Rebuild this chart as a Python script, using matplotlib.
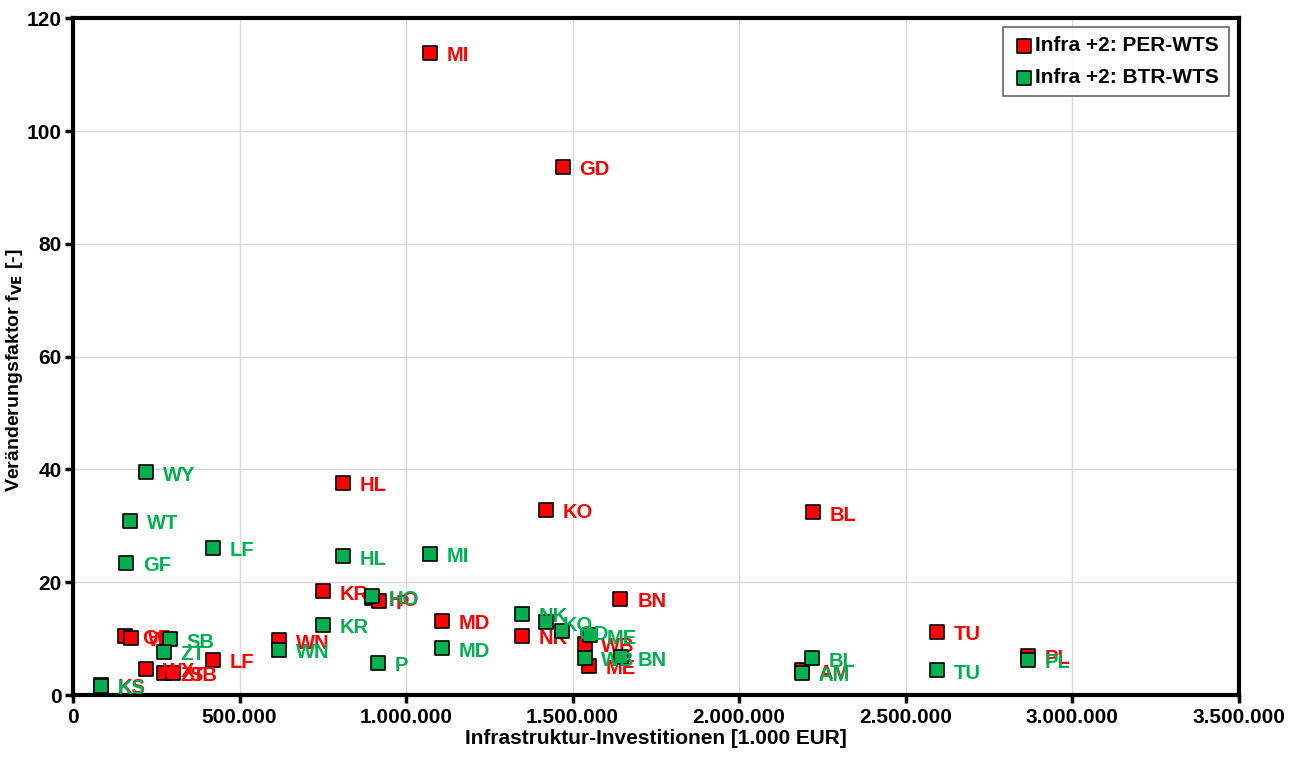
import matplotlib.pyplot as plt
from matplotlib.ticker import FuncFormatter

plt.rcParams['font.family'] = ['Liberation Sans', 'DejaVu Sans']
plt.rcParams['font.weight'] = 'bold'

# Infra +2: PER-WTS (rot)
per_labels = ['MI', 'GD', 'HL', 'KO', 'BL', 'KR', 'HO', 'P', 'MD', 'NK', 'BN', 'WB', 'ME',
              'TU', 'PL', 'AM', 'LF', 'WN', 'WX', 'ZT', 'SB', 'GF', 'WT', 'KS']
per_x = [1071000, 1470000, 810000, 1419000, 2222000, 750000, 897000, 920000, 1107000, 1347000,
         1644000, 1536000, 1550000, 2594000, 2867000, 2190000, 420000, 618000, 219000, 273000,
         300000, 156000, 174000, 84000]
per_y = [113.8, 93.6, 37.6, 32.8, 32.4, 18.4, 17.2, 16.7, 13.1, 10.5,
         17.0, 9.1, 5.2, 11.2, 7.0, 4.4, 6.2, 9.7, 4.7, 3.9,
         3.9, 10.5, 10.1, 1.8]

# Infra +2: BTR-WTS (gruen)
btr_labels = ['WY', 'WT', 'GF', 'LF', 'HL', 'MI', 'KR', 'HO', 'P', 'MD', 'NK', 'KO', 'GD',
              'ME', 'WB', 'BN', 'BL', 'AM', 'TU', 'PL', 'WN', 'SB', 'ZT', 'KS']
btr_x = [219000, 171000, 159000, 420000, 810000, 1071000, 750000, 897000, 915000, 1107000,
         1347000, 1419000, 1467000, 1552000, 1536000, 1645000, 2219000, 2190000, 2594000,
         2867000, 618000, 290000, 273000, 84000]
btr_y = [39.5, 30.9, 23.4, 26.1, 24.6, 25.0, 12.4, 17.5, 5.7, 8.3,
         14.4, 12.9, 11.3, 10.6, 6.6, 6.7, 6.5, 3.9, 4.4,
         6.2, 8.0, 9.9, 7.6, 1.6]

red = '#FF0000'
green = '#00B050'

fig = plt.figure(figsize=(12.95, 7.58), dpi=100)
ax = fig.add_axes([0.0564, 0.083, 0.9, 0.893])

ax.scatter(per_x, per_y, marker='s', s=110, color=red, edgecolor='black', linewidth=1.2,
           zorder=3, label='Infra +2: PER-WTS')
for lab, x, y in zip(per_labels, per_x, per_y):
    ax.annotate(lab, (x, y), xytext=(12, -2), textcoords='offset points', va='center',
                ha='left', color=red, fontsize=14.5, fontweight='bold', zorder=4)

ax.scatter(btr_x, btr_y, marker='s', s=110, color=green, edgecolor='black', linewidth=1.2,
           zorder=5, label='Infra +2: BTR-WTS')
for lab, x, y in zip(btr_labels, btr_x, btr_y):
    ax.annotate(lab, (x, y), xytext=(12, -2), textcoords='offset points', va='center',
                ha='left', color=green, fontsize=14.5, fontweight='bold', zorder=6)

ax.set_xlim(0, 3500000)
ax.set_ylim(0, 120)
ax.set_xticks(range(0, 3500001, 500000))
ax.set_yticks(range(0, 121, 20))
ax.xaxis.set_major_formatter(FuncFormatter(lambda v, p: f'{int(v):,}'.replace(',', '.')))
ax.grid(True, color='#D9D9D9', linewidth=1)
ax.set_axisbelow(True)

for s in ax.spines.values():
    s.set_linewidth(3)
ax.tick_params(direction='out', length=6, width=2.5, labelsize=15)
ax.tick_params(axis='y', pad=2)
for t in ax.get_xticklabels() + ax.get_yticklabels():
    t.set_fontweight('bold')

ax.set_xlabel('Infrastruktur-Investitionen [1.000 EUR]', fontsize=15, fontweight='bold', labelpad=1)
ax.set_ylabel('Veränderungsfaktor f$_{\\mathbf{VE}}$ [-]', fontsize=14, fontweight='bold', labelpad=1)
ax.yaxis.set_label_coords(-0.041, 0.48)

leg = ax.legend(loc='upper right', fontsize=15, frameon=True, fancybox=False, edgecolor='#404040',
                handletextpad=0.0, borderpad=0.45, labelspacing=0.6, handlelength=1.1,
                bbox_to_anchor=(0.995, 0.993), scatterpoints=1, markerscale=1.0,
                borderaxespad=0.2)
leg.get_frame().set_linewidth(1.2)
for t in leg.get_texts():
    t.set_fontweight('bold')

fig.savefig('out.png', dpi=100)
